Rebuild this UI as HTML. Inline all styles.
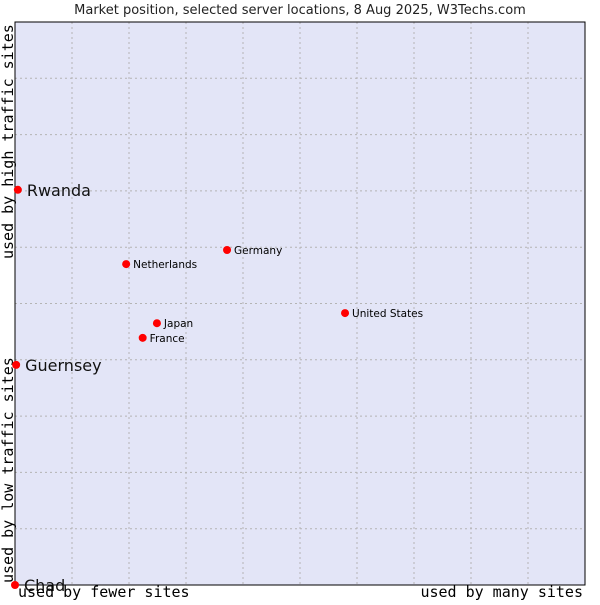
<!DOCTYPE html>
<html><head><meta charset="utf-8"><style>
body{margin:0;background:#fff;}
svg text{font-family:"DejaVu Sans","Liberation Sans",sans-serif;}
.mono{font-family:"DejaVu Sans Mono","Liberation Mono",monospace !important;}
</style></head><body>
<svg id="chart" width="600" height="600" xmlns="http://www.w3.org/2000/svg">
<text x="300" y="14" text-anchor="middle" font-size="13" fill="#222">Market position, selected server locations, 8 Aug 2025, W3Techs.com</text>
<rect x="15" y="22" width="570" height="563" fill="#e3e5f7" stroke="#000" stroke-width="1"/>
<g id="grid"></g>
<rect x="15" y="22" width="570" height="563" fill="none" stroke="#000" stroke-width="1"/>
<text class="mono" transform="translate(13,259) rotate(-90)" text-anchor="start" font-size="15" fill="#000">used by high traffic sites</text>
<text class="mono" transform="translate(13,583) rotate(-90)" text-anchor="start" font-size="15" fill="#000">used by low traffic sites</text>
<g id="points"></g>
<text class="mono" x="18" y="597" font-size="15" fill="#000">used by fewer sites</text>
<text class="mono" x="583" y="597" text-anchor="end" font-size="15" fill="#000">used by many sites</text>
</svg>
<script>
const names=["Rwanda","Guernsey","Chad","Netherlands","Germany","United States","Japan","France"];
const xValues=[0.5,0.2,0,19.5,37.2,57.9,24.9,22.4];
const yValues=[70.2,39.1,0,57.0,59.5,48.3,46.5,43.9];
const bigLabel=[true,true,true,false,false,false,false,false];
const NS="http://www.w3.org/2000/svg";
const L=15,R=585,T=22,B=585;
const xs=v=>L+v/100*(R-L);
const ys=v=>B-v/100*(B-T);
const grid=document.getElementById('grid');
for(let i=1;i<10;i++){
 const v=document.createElementNS(NS,'line');
 v.setAttribute('x1',xs(i*10));v.setAttribute('x2',xs(i*10));v.setAttribute('y1',T);v.setAttribute('y2',B);
 v.setAttribute('stroke','#b4b4b4');v.setAttribute('stroke-dasharray','2,3');
 
 
 grid.appendChild(v);
 const h=document.createElementNS(NS,'line');
 h.setAttribute('y1',ys(i*10));h.setAttribute('y2',ys(i*10));h.setAttribute('x1',L);h.setAttribute('x2',R);
 h.setAttribute('stroke','#b4b4b4');h.setAttribute('stroke-dasharray','2,3');
 
 
 grid.appendChild(h);
}
const pts=document.getElementById('points');
names.forEach((n,i)=>{
 const cx=xs(xValues[i]),cy=ys(yValues[i]);
 const c=document.createElementNS(NS,'circle');
 c.setAttribute('cx',cx);c.setAttribute('cy',cy);c.setAttribute('r',4);c.setAttribute('fill','#f00');
 
 
 pts.appendChild(c);
 const t=document.createElementNS(NS,'text');
 t.setAttribute('x',cx+(bigLabel[i]?9:7));t.setAttribute('y',cy+(bigLabel[i]?6:4));
 t.setAttribute('font-size',bigLabel[i]?16:10.5);t.setAttribute('fill',bigLabel[i]?'#111':'#000');
 t.textContent=n;
 
 
 pts.appendChild(t);
});
</script>
</body></html>
